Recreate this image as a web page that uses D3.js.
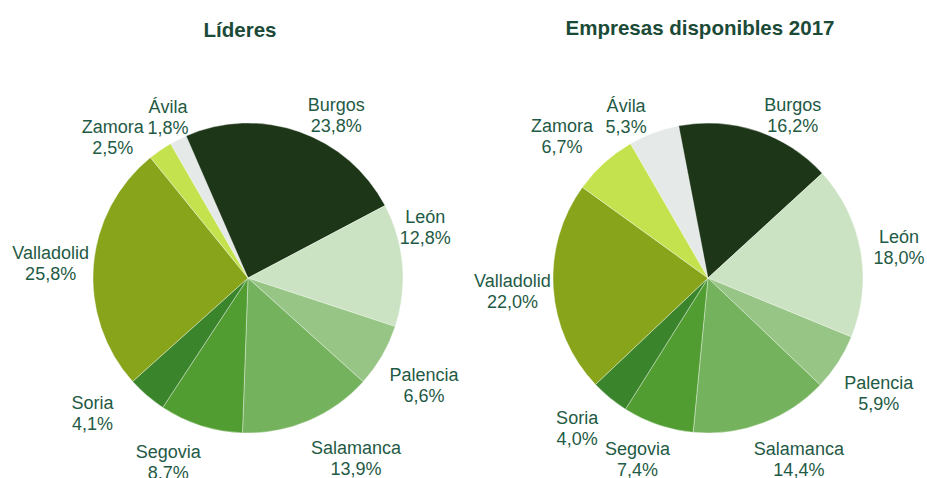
<!DOCTYPE html>
<html>
<head>
<meta charset="utf-8">
<script src="https://cdn.jsdelivr.net/npm/d3@7"></script>
<style>
    body { margin: 0; background: #fff; }
    svg { display: block; }
</style>
</head>
<body>
<div id="chart"></div>
<script>
// provinces in drawing order (clockwise, starting at 330 degrees)
const provinces = ["Ávila", "Burgos", "León", "Palencia", "Salamanca", "Segovia", "Soria", "Valladolid", "Zamora"];
const lideresValues = [1.8, 23.8, 12.8, 6.6, 13.9, 8.7, 4.1, 25.8, 2.5];
const empresasValues = [5.3, 16.2, 18.0, 5.9, 14.4, 7.4, 4.0, 22.0, 6.7];
const chartTitles = ["Líderes", "Empresas disponibles 2017"];

const sliceColors = ["#e5e9e8", "#1d3618", "#cbe3c3", "#97c585", "#74b25d", "#529d32", "#3a852b", "#87a41b", "#c3e24d"];
const textColor = "#1f5a45";
const titleColor = "#1b4a37";

// small hand nudges so labels sit like the original "best fit" placement
const labelNudges = [
    [[10, 5], [22, 13], [-22, -35], [3, 14], [30, 9], [-19, 7], [-25, -6], [2, 0], [-22, 12]],
    [[-12, 12], [22, 14], [-6, 2], [3, 14], [21, 7], [-6, 5], [-4, 6], [4, 1], [-12, -4]]
];

const width = 927, height = 478;
const radius = 155;
const centers = [[248, 278], [708, 278]];
const titleX = [240, 700];

const svg = d3.select("#chart").append("svg")
    .attr("width", width)
    .attr("height", height);

const fmt = v => d3.format(".1f")(v).replace(".", ",") + "%";

const pie = d3.pie()
    .sort(null)
    .value(d => d.value)
    .startAngle(-Math.PI / 6)
    .endAngle(2 * Math.PI - Math.PI / 6);

const arc = d3.arc().innerRadius(0).outerRadius(radius);

function drawPie(i, values) {
    const data = provinces.map((p, j) => ({ name: p, value: values[j], color: sliceColors[j], nudge: labelNudges[i][j] }));
    const g = svg.append("g")
        .attr("transform", `translate(${centers[i][0]}, ${centers[i][1]})`);

    g.selectAll("path")
        .data(pie(data))
        .enter()
        .append("path")
        .attr("d", arc)
        .attr("fill", d => d.data.color)
        .attr("stroke", "#fff")
        .attr("stroke-width", 0.6)
        .attr("stroke-opacity", 0.6);

    // labels: box pushed outside the pie along the mid angle
    const labelW = 70, labelH = 42, gap = 10;
    const labels = g.selectAll(".label")
        .data(pie(data))
        .enter()
        .append("text")
        .attr("class", "label")
        .attr("text-anchor", "middle")
        .attr("fill", textColor)
        .style("font-family", "'Liberation Sans', Arial, sans-serif")
        .style("font-size", "18px")
        .attr("transform", d => {
            const a = (d.startAngle + d.endAngle) / 2;
            const ax = Math.sin(a) * (radius + gap);
            const ay = -Math.cos(a) * (radius + gap);
            const cx = ax + Math.sin(a) * labelW / 2 + d.data.nudge[0];
            const cy = ay - Math.cos(a) * labelH / 2 + d.data.nudge[1];
            return `translate(${cx}, ${cy})`;
        });

    labels.append("tspan")
        .attr("x", 0)
        .attr("y", -4)
        .text(d => d.data.name);
    labels.append("tspan")
        .attr("x", 0)
        .attr("y", 17)
        .text(d => fmt(d.data.value));

    svg.append("text")
        .attr("x", titleX[i])
        .attr("y", i === 0 ? 37 : 35)
        .attr("text-anchor", "middle")
        .attr("fill", titleColor)
        .style("font-family", "'Liberation Sans', Arial, sans-serif")
        .style("font-size", "20.5px")
        .style("font-weight", "bold")
        .text(chartTitles[i]);
}

drawPie(0, lideresValues);
drawPie(1, empresasValues);
</script>
</body>
</html>
